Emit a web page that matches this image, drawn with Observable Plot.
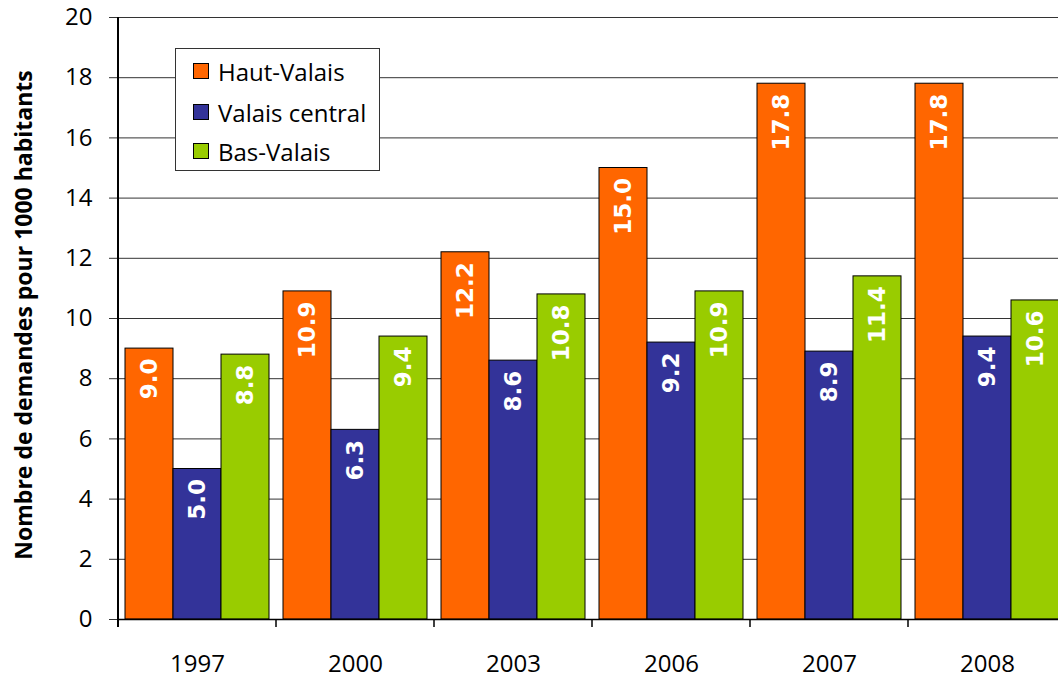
<!DOCTYPE html>
<html><head><meta charset="utf-8">
<script src="https://cdn.jsdelivr.net/npm/d3@7"></script>
<script src="https://cdn.jsdelivr.net/npm/@observablehq/plot@0.6"></script>
<style>
html,body{margin:0;padding:0;overflow:hidden;background:#fff;}
#wrap{position:relative;width:1066px;height:677px;}
#legend{position:absolute;left:175px;top:48px;width:205px;height:123px;border:1px solid #333;background:#fff;font-family:"Open Sans",sans-serif;font-size:24px;color:#000;box-sizing:border-box;}
.row{position:absolute;left:0;height:30px;display:flex;align-items:center;}
.sw{width:14px;height:14px;border:1px solid #000;margin-left:17px;margin-right:9px;}
</style></head>
<body><div id="wrap"></div>
<script>
const years = ["1997","2000","2003","2006","2007","2008"];
const series = ["Haut-Valais","Valais central","Bas-Valais"];
const hautValais = [9.0,10.9,12.2,15.0,17.8,17.8];
const valaisCentral = [5.0,6.3,8.6,9.2,8.9,9.4];
const basValais = [8.8,9.4,10.8,10.9,11.4,10.6];
const colors = ["#FF6600","#333399","#99CC00"];
const yTicks = [0,2,4,6,8,10,12,14,16,18,20];
const yLabel = "Nombre de demandes pour 1000 habitants";

const seriesValues = [hautValais, valaisCentral, basValais];
const data = years.flatMap((yr,i)=>series.map((s,j)=>({year:yr, series:s, value:seriesValues[j][i]})));

const chart = Plot.plot({
  width:1066, height:677, marginTop:17, marginBottom:58, marginLeft:117, marginRight:0,
  style:{fontFamily:"'Open Sans', sans-serif", fontSize:"22px", color:"#000", background:"#fff", overflow:"visible"},
  fx:{domain:years, padding:0, label:null, axis:null},
  x:{domain:series, paddingInner:0, paddingOuter:7/48, axis:null},
  y:{domain:[0,20], label:null, axis:null},
  color:{domain:series, range:colors},
  marks:[
    Plot.gridY(yTicks,{stroke:"#333", strokeOpacity:1, strokeWidth:1}),
    Plot.axisY(yTicks,{tickSize:9, tickPadding:17, fontSize:24, label:null, stroke:"#333"}),
    Plot.axisFx({anchor:"bottom", tickSize:0, tickPadding:35, fontSize:24, label:null}),
    Plot.barY(data,{fx:"year", x:"series", y:"value", fill:"series", stroke:"#000", strokeWidth:1}),
    Plot.text(data,{fx:"year", x:"series", y:"value", text:d=>d.value.toFixed(1), rotate:-90, textAnchor:"end", lineAnchor:"middle", dy:10, fill:"#fff", fontWeight:"bold", fontSize:23, fontFamily:"DejaVu Sans"}),
    Plot.ruleY([0],{stroke:"#000", strokeWidth:1.5})
  ]
});
document.getElementById("wrap").appendChild(chart);

const svg = d3.select(chart);
const fx = chart.scale("fx");
const y = chart.scale("y");
const y0 = y.apply(0), y20 = y.apply(20);
const bounds = years.map(yr=>fx.apply(yr)).concat([fx.apply(years[years.length-1])+fx.bandwidth]);
svg.append("g").selectAll("line").data(bounds).join("line")
  .attr("x1",d=>d).attr("x2",d=>d).attr("y1",y0).attr("y2",y0+8)
  .attr("stroke","#000").attr("stroke-width",1.5);
svg.append("line").attr("x1",bounds[0]).attr("x2",bounds[0]).attr("y1",y20).attr("y2",y0+8)
  .attr("stroke","#000").attr("stroke-width",2);
svg.append("text").text(yLabel)
  .attr("transform",`translate(32,${(y0+y20)/2 - 3}) rotate(-90)`)
  .attr("text-anchor","middle").attr("font-weight","bold").attr("font-size",23)
  .attr("font-family","'Open Sans', sans-serif").attr("fill","#000");

// legend
const legend = document.createElement("div");
legend.id = "legend";
const rowTops = [7, 48, 87];
series.forEach((s,i)=>{
  const r = document.createElement("div");
  r.className = "row"; r.style.top = rowTops[i]+"px";
  const sw = document.createElement("div"); sw.className="sw"; sw.style.background = colors[i];
  const t = document.createElement("span"); t.textContent = s;
  r.appendChild(sw); r.appendChild(t); legend.appendChild(r);
});
document.getElementById("wrap").appendChild(legend);
</script>
</body></html>
